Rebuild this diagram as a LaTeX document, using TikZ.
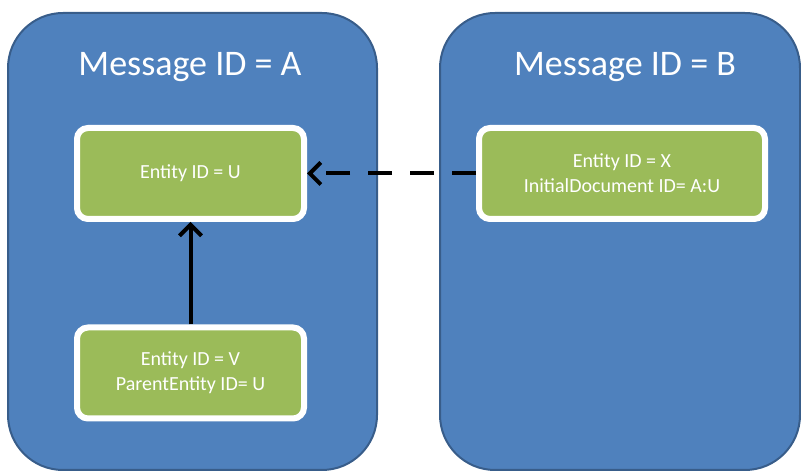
\documentclass[tikz,border=0pt]{standalone}
\usepackage{xcolor}
\usepackage{fontspec}
\setmainfont{Carlito}
\usepackage{tikz}
\usetikzlibrary{arrows.meta, positioning}
\definecolor{msgblue}{RGB}{79,129,189}
\definecolor{msgedge}{RGB}{56,93,138}
\definecolor{entgreen}{RGB}{155,187,89}
\definecolor{mydark}{RGB}{0,0,0}
\tikzset{
  msgbox/.style={rectangle, draw=msgedge, fill=msgblue, line width=2pt,
    rounded corners=55pt, minimum height=457pt},
  msgtitle/.style={text=white, font=\fontsize{36}{42}\selectfont},
  entbox/.style={rectangle, draw=white, fill=entgreen, line width=6pt,
    rounded corners=11pt, minimum height=91pt, align=center,
    text=white, font=\fontsize{20}{25}\selectfont},
  link/.style={-{Straight Barb[length=11pt, width=22pt, line width=4pt]},
    line width=4pt, color=mydark},
  dashlink/.style={link, dash pattern=on 24pt off 18pt}
}
\begin{document}
\begin{tikzpicture}[x=1pt, y=1pt]
  \useasboundingbox (0,0) rectangle (801,474);
  % Message containers
  \node[msgbox, minimum width=369pt] (msgA) at (192.5,232.5) {};
  \node[msgbox, minimum width=360pt] (msgB) at (620,232.5) {};
  \node[msgtitle] (titleA) at (190,407) {Message ID = A};
  \node[msgtitle] (titleB) at (625,407) {Message ID = B};

  % Entities
  \node[entbox, minimum width=227pt] (entU) at (190.5,300.5) {Entity ID = U};
  \node[entbox, minimum width=227pt] (entV) at (190.5,101) {Entity ID = V\\ParentEntity ID= U};
  \node[entbox, minimum width=286pt] (entX) at (622,300.5) {Entity ID = X\\InitialDocument ID= A:U};

  % Parent and document links
  \draw[link] (entV.north) -- (entU.south);
  \draw[dashlink] (entX.west) -- (entU.east);
\end{tikzpicture}
\end{document}
